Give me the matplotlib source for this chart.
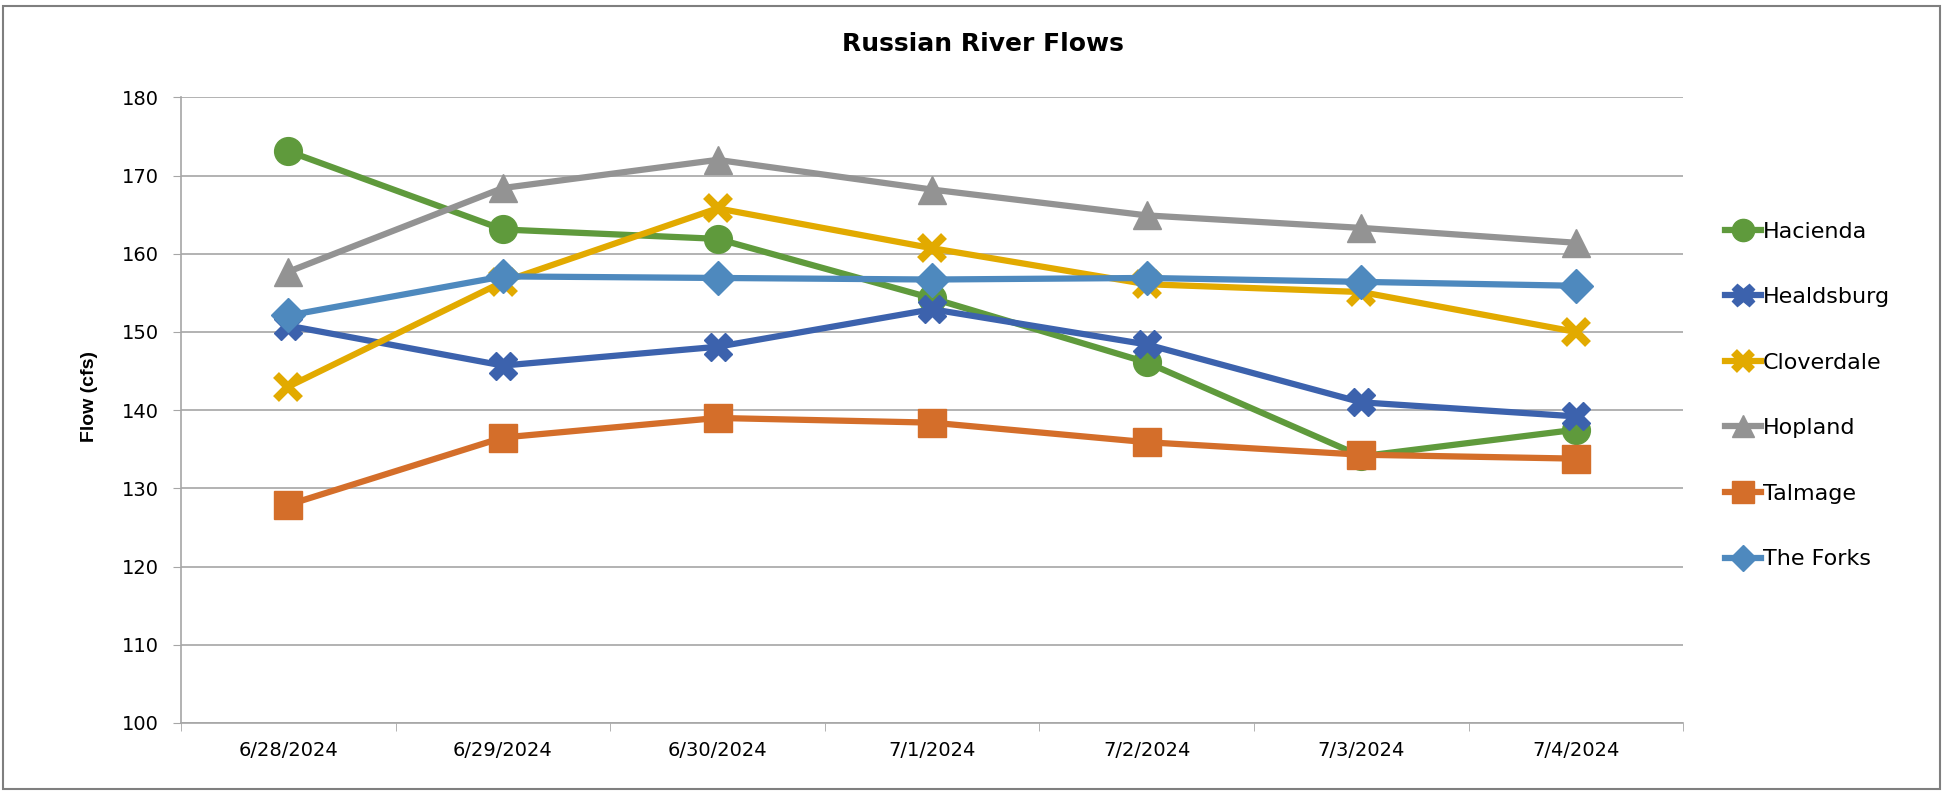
import matplotlib
matplotlib.use("Agg")
import matplotlib.pyplot as plt
from matplotlib.patches import Rectangle

# 데이터
dates = ["6/28/2024", "6/29/2024", "6/30/2024", "7/1/2024", "7/2/2024", "7/3/2024", "7/4/2024"]
hacienda = [173.1, 163.1, 161.9, 154.3, 146.1, 134.1, 137.5]
healdsburg = [150.8, 145.7, 148.1, 152.9, 148.4, 141.0, 139.2]
cloverdale = [143.0, 156.4, 165.8, 160.7, 156.1, 155.1, 150.0]
hopland = [157.7, 168.4, 172.0, 168.2, 164.9, 163.3, 161.4]
talmage = [127.9, 136.5, 139.0, 138.4, 135.9, 134.3, 133.8]
the_forks = [152.1, 157.1, 156.9, 156.7, 156.9, 156.4, 155.9]

series = [
    ("Hacienda", hacienda, "#5f9a3c", "o", 20, {}),
    ("Healdsburg", healdsburg, "#3c62ad", "X", 20, {}),
    ("Cloverdale", cloverdale, "#e2aa00", "x", 17, {"markeredgewidth": 6}),
    ("Hopland", hopland, "#939393", "^", 20, {}),
    ("Talmage", talmage, "#d46e2a", "s", 20, {}),
    ("The Forks", the_forks, "#4e89be", "D", 17, {}),
]

plt.rcParams["font.family"] = ["DejaVu Sans"]

fig = plt.figure(figsize=(19.55, 7.91), dpi=100)
ax = fig.add_axes([0.0926, 0.086, 0.861 - 0.0926, 0.877 - 0.086])

x = list(range(len(dates)))
for name, vals, color, marker, ms, extra in series:
    ax.plot(x, vals, color=color, lw=4.5, marker=marker, markersize=ms,
            label=name, solid_joinstyle="round", **extra)

ax.set_xlim(-0.5, len(dates) - 0.5)
ax.set_ylim(100, 180)
ax.set_yticks(range(100, 181, 10))
ax.set_xticks(x)
ax.set_xticklabels(dates, fontsize=14)
ax.set_xticks([i - 0.5 for i in range(len(dates) + 1)], minor=True)
ax.tick_params(axis="x", which="major", length=0, pad=13)
ax.tick_params(axis="x", which="minor", length=6, color="#a6a6a6")
ax.tick_params(axis="y", labelsize=14, length=6, color="#a6a6a6", pad=10)
ax.grid(axis="y", color="#a6a6a6", lw=1.2)
ax.set_axisbelow(True)
for s in ["top", "right"]:
    ax.spines[s].set_visible(False)
for s in ["left", "bottom"]:
    ax.spines[s].set_color("#a6a6a6")
    ax.spines[s].set_linewidth(1.2)

ax.set_ylabel("Flow (cfs)", fontsize=14, fontweight="bold",
              family=["Liberation Sans Narrow", "Liberation Sans"])
ax.yaxis.set_label_coords(-0.0553, 0.521)
fig.text(0.503, 0.945, "Russian River Flows", ha="center", va="center",
         fontsize=18, fontweight="bold")

leg = fig.legend(loc="center left", bbox_to_anchor=(1725 / 1955, 0.5), frameon=False,
                 fontsize=16, labelspacing=2.05, handlelength=1.6,
                 handletextpad=0.1, markerscale=0.8, borderpad=0, borderaxespad=0)

# 바깥 테두리
fig.patches.append(Rectangle((0.0015, 0.003), 0.991, 0.99, transform=fig.transFigure,
                             fill=False, edgecolor="#7f7f7f", lw=1.5))

fig.savefig("out.png", dpi=100)
